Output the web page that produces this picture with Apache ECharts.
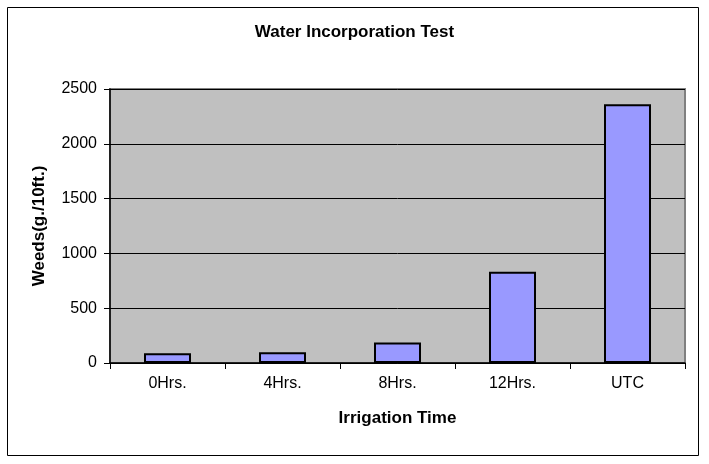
<!DOCTYPE html>
<html>
<head>
<meta charset="utf-8">
<script src="https://cdn.jsdelivr.net/npm/echarts@6/dist/echarts.min.js"></script>
<style>html,body{margin:0;padding:0;background:#fff;}#c{width:709px;height:464px;}</style>
</head>
<body>
<div id="c"></div>
<script>
var categories = ['0Hrs.', '4Hrs.', '8Hrs.', '12Hrs.', 'UTC'];
var weeds = [90, 98, 188, 832, 2360];
var yTicks = [0, 500, 1000, 1500, 2000, 2500];

var chart = echarts.init(document.getElementById('c'), null, {renderer: 'canvas'});
var font = 'Arial, "Liberation Sans", sans-serif';
chart.setOption({
  animation: false,
  backgroundColor: '#ffffff',
  graphic: [{
    type: 'rect', shape: {x: 7.5, y: 7.5, width: 691, height: 448},
    style: {fill: 'none', stroke: '#000', lineWidth: 1}, z: -1
  }],
  title: {
    text: 'Water Incorporation Test', left: 'center', top: 19,
    textStyle: {fontFamily: font, fontSize: 17, fontWeight: 'bold', color: '#000'}
  },
  grid: {
    left: 110, right: 24, top: 89, bottom: 101,
    show: true, backgroundColor: '#C0C0C0', borderColor: '#808080', borderWidth: 2
  },
  xAxis: {
    type: 'category', data: categories,
    name: 'Irrigation Time', nameLocation: 'middle', nameGap: 47,
    nameTextStyle: {fontFamily: font, fontSize: 17, fontWeight: 'bold', color: '#000'},
    axisLine: {show: true, lineStyle: {color: '#000', width: 1.5}},
    axisTick: {show: true, length: 6, lineStyle: {color: '#000'}},
    axisLabel: {fontFamily: font, fontSize: 16, color: '#000', margin: 13},
    splitLine: {show: false}
  },
  yAxis: {
    type: 'value', min: 0, max: 2500, interval: 500,
    name: 'Weeds(g./10ft.)', nameLocation: 'middle', nameGap: 62,
    nameTextStyle: {fontFamily: font, fontSize: 17, fontWeight: 'bold', color: '#000'},
    axisLine: {show: true, lineStyle: {color: '#000', width: 1.5}},
    axisTick: {show: true, length: 6, lineStyle: {color: '#000'}},
    axisLabel: {fontFamily: font, fontSize: 16, color: '#000', margin: 13,
      formatter: function (v) { return yTicks.indexOf(v) >= 0 ? String(v) : ''; }},
    splitLine: {show: true, lineStyle: {color: '#000', width: 1}}
  },
  series: [{
    type: 'bar', data: weeds, barWidth: 47,
    itemStyle: {color: '#9999FF', borderColor: '#000', borderWidth: 2}
  }]
});
</script>
</body>
</html>
